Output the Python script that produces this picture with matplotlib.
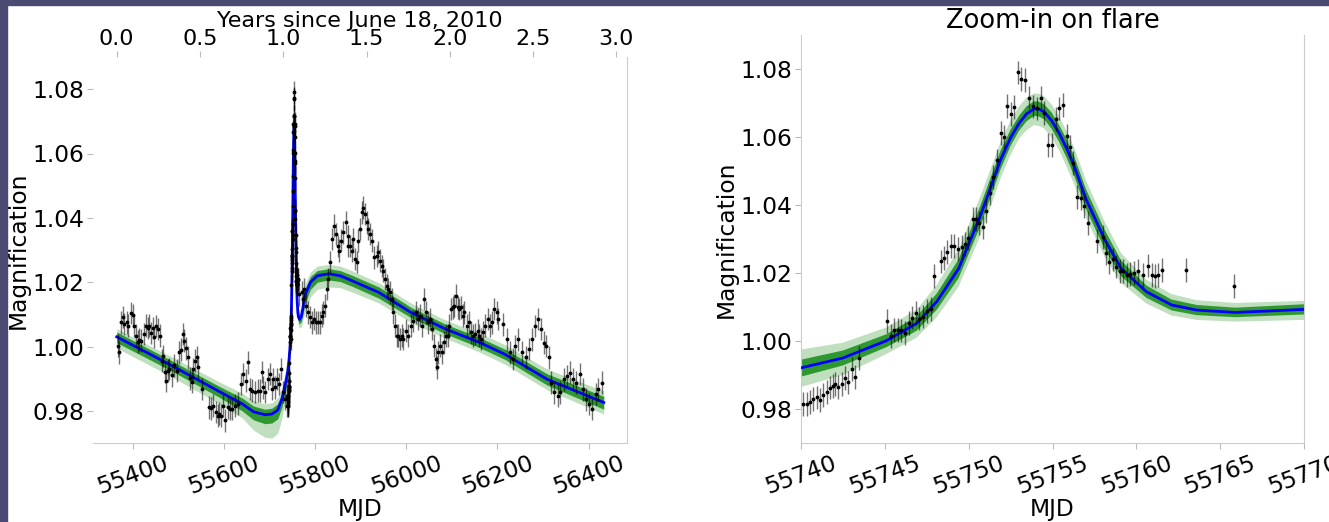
import matplotlib
matplotlib.use("Agg")
import matplotlib.pyplot as plt
from matplotlib.patches import Rectangle

# ---- data ----
# light curve outside the flare (MJD, magnification)
lc_mjd = [55367.1, 55370.8, 55374.5, 55378.1, 55381.8, 55386.9, 55390.5, 55396.4, 55400.0, 55403.7,
          55407.3, 55411.0, 55414.7, 55418.3, 55425.6, 55429.3, 55432.9, 55436.6, 55440.2, 55443.9,
          55447.5, 55451.2, 55454.9, 55459.2, 55463.6, 55467.3, 55470.9, 55473.9, 55476.8, 55480.4,
          55485.6, 55491.4, 55497.3, 55502.4, 55506.0, 55509.7, 55513.3, 55517.7, 55522.1, 55526.5,
          55530.2, 55533.1, 55536.7, 55540.4, 55544.0, 55551.4, 55567.4, 55571.8, 55576.2, 55582.0,
          55586.4, 55589.3, 55593.7, 55598.8, 55602.4, 55608.3, 55613.4, 55618.5, 55624.4, 55630.2,
          55637.5, 55642.6, 55647.8, 55653.6, 55657.3, 55662.4, 55668.2, 55674.1, 55679.2, 55682.8,
          55686.5, 55690.2, 55696.0, 55701.1, 55704.8, 55708.4, 55712.1, 55716.5, 55720.9, 55725.2,
          55730.4, 55734.0, 55737.7, 55739.2,
          55771.5, 55774.0, 55776.4, 55780.1, 55785.2, 55788.8, 55792.5, 55796.9, 55801.3, 55805.6,
          55810.0, 55814.4, 55818.1, 55821.7, 55825.4, 55829.0, 55832.7, 55836.4, 55842.2, 55845.1,
          55849.5, 55852.4, 55856.8, 55861.9, 55867.0, 55871.4, 55872.9, 55876.6, 55880.2, 55883.9,
          55887.5, 55891.2, 55894.8, 55898.5, 55902.2, 55905.8, 55909.5, 55913.1, 55916.8, 55920.4,
          55924.1, 55929.9, 55935.0, 55938.7, 55942.4, 55946.0, 55949.7, 55953.3, 55957.0, 55960.6,
          55964.3, 55967.9, 55971.6, 55975.3, 55978.9, 55982.6, 55986.2, 55989.9, 55993.5, 55998.6,
          56004.5, 56010.3, 56015.5, 56020.6, 56025.0, 56030.1, 56033.7, 56039.6, 56043.2, 56046.9,
          56052.0, 56057.1, 56061.5, 56064.4, 56066.6, 56070.3, 56073.9, 56077.6, 56082.0, 56086.4,
          56090.9, 56094.4, 56098.1, 56101.7, 56105.4, 56109.0, 56112.7, 56116.3, 56120.0, 56123.6,
          56127.3, 56132.4, 56137.5, 56141.9, 56147.0, 56150.7, 56156.5, 56160.2, 56163.8, 56167.5,
          56172.6, 56178.5, 56183.6, 56188.7, 56193.1, 56198.2, 56201.9, 56212.0, 56221.0, 56227.0,
          56233.0, 56239.0, 56246.0, 56253.0, 56262.0, 56270.0, 56276.0, 56283.0, 56288.0, 56295.0,
          56301.0, 56307.0, 56313.0, 56318.0, 56325.0, 56332.0, 56338.0, 56345.0, 56353.0, 56359.0,
          56366.0, 56373.0, 56381.0, 56387.0, 56394.0, 56401.0, 56408.0, 56415.0, 56421.0, 56429.0]
lc_mag = [1.0003, 0.9982, 1.0075, 1.0091, 1.0070, 1.0075, 1.0065, 1.0104, 1.0098, 1.0065,
          1.0034, 1.0015, 1.0021, 1.0018, 1.0039, 1.0065, 1.0057, 1.0065, 1.0042, 1.0057,
          1.0029, 1.0063, 1.0055, 1.0034, 0.9956, 0.9970, 0.9920, 0.9894, 0.9925, 0.9930,
          0.9910, 0.9941, 0.9925, 0.9982, 0.9990, 1.0039, 1.0018, 0.9994, 0.9966, 0.9901,
          0.9891, 0.9930, 0.9956, 0.9966, 0.9935, 0.9868, 0.9811, 0.9808, 0.9816, 0.9796,
          0.9785, 0.9791, 0.9785, 0.9816, 0.9770, 0.9811, 0.9806, 0.9806, 0.9816, 0.9822,
          0.9884, 0.9915, 0.9894, 0.9951, 0.9868, 0.9863, 0.9858, 0.9863, 0.9863, 0.9920,
          0.9873, 0.9858, 0.9899, 0.9915, 0.9868, 0.9899, 0.9873, 0.9899, 0.9884, 0.9930,
          0.9858, 0.9837, 0.9816, 0.9847,
          1.0168, 1.0148, 1.0179, 1.0127, 1.0106, 1.0091, 1.0075, 1.0086, 1.0075, 1.0075,
          1.0075, 1.0096, 1.0106, 1.0127, 1.0179, 1.0210, 1.0262, 1.0334, 1.0376, 1.0350,
          1.0313, 1.0298, 1.0329, 1.0355, 1.0386, 1.0313, 1.0344, 1.0313, 1.0298, 1.0334,
          1.0272, 1.0262, 1.0329, 1.0365, 1.0417, 1.0432, 1.0412, 1.0386, 1.0365, 1.0350,
          1.0329, 1.0277, 1.0282, 1.0293, 1.0267, 1.0251, 1.0236, 1.0210, 1.0189, 1.0179,
          1.0168, 1.0148, 1.0106, 1.0065, 1.0034, 1.0034, 1.0024, 1.0034, 1.0024, 1.0049,
          1.0034, 1.0065, 1.0080, 1.0106, 1.0086, 1.0096, 1.0065, 1.0148, 1.0106, 1.0075,
          1.0086, 1.0055, 1.0003, 0.9961, 0.9935, 0.9982, 1.0003, 0.9982, 1.0013, 1.0034,
          1.0034, 1.0065, 1.0117, 1.0122, 1.0127, 1.0158, 1.0122, 1.0117, 1.0122, 1.0096,
          1.0106, 1.0065, 1.0075, 1.0044, 1.0034, 1.0039, 1.0049, 1.0034, 1.0024, 1.0044,
          1.0065, 1.0086, 1.0065, 1.0075, 1.0117, 1.0106, 1.0086, 1.0069, 1.0022, 0.9982,
          0.9961, 1.0002, 1.0022, 0.9982, 0.9966, 0.9992, 1.0022, 1.0064, 1.0085, 1.0054,
          1.0012, 1.0002, 0.9966, 0.9888, 0.9857, 0.9847, 0.9857, 0.9898, 0.9909, 0.9919,
          0.9898, 0.9888, 0.9914, 0.9867, 0.9836, 0.9821, 0.9805, 0.9852, 0.9867, 0.9888]

# points around the flare
flare_mjd = [55740.14, 55740.34, 55740.54, 55740.73, 55740.93, 55741.13, 55741.33, 55741.53, 55741.73, 55741.93,
             55742.03, 55742.22, 55742.42, 55742.62, 55742.82, 55743.02, 55743.22, 55743.48,
             55745.15, 55745.37, 55745.57, 55745.77, 55745.96, 55746.20, 55746.44, 55746.64, 55746.84, 55747.04,
             55747.29, 55747.53, 55747.73, 55747.93, 55748.33, 55748.53, 55748.72, 55748.93, 55749.14, 55749.34,
             55749.58, 55749.78, 55749.98, 55750.24, 55750.44, 55750.63, 55750.83, 55751.03, 55751.27, 55751.47,
             55751.67, 55751.91, 55752.10, 55752.30, 55752.50, 55752.70, 55752.92, 55753.12, 55753.36, 55753.60,
             55753.82, 55754.05, 55754.29, 55754.51, 55754.75, 55754.95, 55755.19, 55755.40, 55755.64, 55755.84,
             55756.04, 55756.24, 55756.44, 55756.68, 55756.88, 55757.10, 55757.63, 55757.99, 55758.19, 55758.38,
             55758.58, 55758.78, 55759.02, 55759.22, 55759.42, 55759.62, 55759.86, 55760.08, 55760.38, 55760.67,
             55760.91, 55761.11, 55761.31, 55761.51, 55762.96, 55765.81]
flare_mag = [0.9815, 0.9815, 0.9820, 0.9829, 0.9834, 0.9826, 0.9842, 0.9849, 0.9863, 0.9868,
             0.9873, 0.9865, 0.9873, 0.9892, 0.9878, 0.9917, 0.9894, 0.9949,
             1.0059, 1.0015, 1.0033, 1.0032, 1.0031, 1.0023, 1.0052, 1.0069, 1.0082, 1.0066,
             1.0072, 1.0088, 1.0094, 1.0191, 1.0234, 1.0245, 1.0261, 1.0280, 1.0280, 1.0270,
             1.0276, 1.0285, 1.0302, 1.0358, 1.0360, 1.0347, 1.0334, 1.0382, 1.0436, 1.0483,
             1.0531, 1.0611, 1.0601, 1.0691, 1.0667, 1.0688, 1.0790, 1.0771, 1.0768, 1.0716,
             1.0690, 1.0684, 1.0716, 1.0671, 1.0577, 1.0577, 1.0652, 1.0684, 1.0693, 1.0603,
             1.0572, 1.0523, 1.0424, 1.0421, 1.0397, 1.0347, 1.0295, 1.0305, 1.0259, 1.0232,
             1.0240, 1.0219, 1.0205, 1.0205, 1.0193, 1.0198, 1.0201, 1.0205, 1.0195, 1.0222,
             1.0195, 1.0191, 1.0195, 1.0210, 1.0208, 1.0162]
mag_err = 0.0035

# best-fit model and the spread of the posterior samples
model_mjd = [55365, 55480, 55590, 55640, 55665, 55690, 55705, 55718, 55727, 55733,
             55740, 55742.5, 55745.1, 55746.9, 55748.1, 55749.4, 55750.7, 55751.9, 55752.5, 55753.0,
             55753.45, 55753.9, 55754.2, 55754.5, 55754.95, 55755.4, 55755.85, 55756.3, 55757.0, 55758.1,
             55759.1, 55760.6, 55762.1, 55763.6, 55765.9, 55770, 55778, 55790, 55805, 55830,
             55855, 55880, 55940, 56010, 56085, 56160, 56216, 56309, 56433]
model_mag = [1.0030, 0.9945, 0.9860, 0.9822, 0.9797, 0.9788, 0.9790, 0.9802, 0.9835, 0.9870,
             0.9921, 0.9950, 1.0001, 1.0052, 1.0116, 1.0213, 1.0368, 1.0533, 1.0598, 1.0640,
             1.0668, 1.0683, 1.0682, 1.0674, 1.0648, 1.0611, 1.0566, 1.0514, 1.0417, 1.0300,
             1.0213, 1.0145, 1.0106, 1.0091, 1.0084, 1.0093, 1.0160, 1.0200, 1.0220, 1.0226,
             1.0220, 1.0205, 1.0168, 1.0106, 1.0055, 1.0013, 0.9976, 0.9898, 0.9826]
inner_lo = [1.0012, 0.9928, 0.9842, 0.9800, 0.9772, 0.9760, 0.9762, 0.9775, 0.9810, 0.9848,
            0.9895, 0.9928, 0.9982, 1.0030, 1.0092, 1.0185, 1.0338, 1.0505, 1.0574, 1.0618,
            1.0646, 1.0662, 1.0660, 1.0652, 1.0624, 1.0585, 1.0538, 1.0485, 1.0388, 1.0272,
            1.0190, 1.0127, 1.0090, 1.0076, 1.0070, 1.0078, 1.0135, 1.0178, 1.0200, 1.0207,
            1.0202, 1.0188, 1.0150, 1.0090, 1.0040, 0.9997, 0.9960, 0.9880, 0.9805]
inner_hi = [1.0045, 0.9960, 0.9876, 0.9840, 0.9815, 0.9805, 0.9808, 0.9822, 0.9855, 0.9890,
            0.9945, 0.9972, 1.0020, 1.0072, 1.0140, 1.0240, 1.0398, 1.0560, 1.0622, 1.0662,
            1.0690, 1.0705, 1.0704, 1.0696, 1.0672, 1.0635, 1.0593, 1.0542, 1.0446, 1.0328,
            1.0236, 1.0163, 1.0122, 1.0106, 1.0098, 1.0108, 1.0180, 1.0218, 1.0236, 1.0242,
            1.0236, 1.0222, 1.0185, 1.0122, 1.0070, 1.0028, 0.9992, 0.9915, 0.9845]
outer_lo = [0.9995, 0.9910, 0.9822, 0.9778, 0.9740, 0.9718, 0.9715, 0.9730, 0.9775, 0.9820,
            0.9865, 0.9900, 0.9962, 1.0010, 1.0070, 1.0160, 1.0310, 1.0478, 1.0548, 1.0595,
            1.0620, 1.0635, 1.0632, 1.0625, 1.0598, 1.0560, 1.0512, 1.0460, 1.0362, 1.0248,
            1.0170, 1.0110, 1.0075, 1.0062, 1.0057, 1.0062, 1.0110, 1.0155, 1.0178, 1.0185,
            1.0183, 1.0170, 1.0135, 1.0075, 1.0026, 0.9983, 0.9945, 0.9865, 0.9790]
outer_hi = [1.0055, 0.9972, 0.9890, 0.9855, 0.9832, 0.9822, 0.9825, 0.9840, 0.9870, 0.9905,
            0.9975, 0.9995, 1.0040, 1.0092, 1.0165, 1.0270, 1.0425, 1.0585, 1.0648, 1.0690,
            1.0715, 1.0728, 1.0727, 1.0720, 1.0696, 1.0660, 1.0617, 1.0568, 1.0472, 1.0352,
            1.0258, 1.0180, 1.0138, 1.0120, 1.0112, 1.0118, 1.0195, 1.0232, 1.0250, 1.0255,
            1.0250, 1.0236, 1.0198, 1.0135, 1.0083, 1.0042, 1.0006, 0.9930, 0.9862]

year_zero = 55365  # MJD of June 18, 2010
mag_ticks = [0.98, 1.00, 1.02, 1.04, 1.06, 1.08]
year_ticks = [0.0, 0.5, 1.0, 1.5, 2.0, 2.5, 3.0]
zoom_ticks = [55740, 55745, 55750, 55755, 55760, 55765, 55770]

plt.rcParams['font.size'] = 16.8

W, H = 1329, 522
fig = plt.figure(figsize=(W / 100, H / 100), dpi=100)

# slide border on the top and left
fig.patches.append(Rectangle((0, 1 - 5 / H), 1, 5 / H, transform=fig.transFigure,
                             color='#4a4a72', zorder=0))
fig.patches.append(Rectangle((0, 0), 7 / W, 1, transform=fig.transFigure,
                             color='#4a4a72', zorder=0))


def draw_fit(ax):
    ax.fill_between(model_mjd, outer_lo, outer_hi, color='green', alpha=0.25, lw=0)
    ax.fill_between(model_mjd, inner_lo, inner_hi, color='green', alpha=0.75, lw=0)
    ax.plot(model_mjd, model_mag, color='blue', lw=2, zorder=3)
    for xs, ys in [(lc_mjd, lc_mag), (flare_mjd, flare_mag)]:
        ax.errorbar(xs, ys, yerr=mag_err, fmt='.', ms=3.5, color='k',
                    ecolor=(0, 0, 0, 0.55), elinewidth=1, capsize=0, zorder=4)


def style(ax):
    for s in ax.spines.values():
        s.set_color('#cccccc')
    ax.tick_params(color='#bbbbbb', length=4, width=0.8, pad=2)
    ax.set_ylim(0.97, 1.09)
    ax.set_yticks(mag_ticks)
    ax.set_yticklabels([f"{t:.2f}" for t in mag_ticks])
    ax.set_ylabel('Magnification', labelpad=2)
    ax.set_xlabel('MJD', labelpad=0)
    plt.setp(ax.get_xticklabels(), rotation=20)


# full light curve
ax1 = fig.add_axes([93 / W, 79 / H, 534 / W, 386 / H])
draw_fit(ax1)
ax1.set_xlim(55313, 56484)
ax1.set_xticks([55400, 55600, 55800, 56000, 56200, 56400])
style(ax1)
ax1.spines['left'].set_visible(False)
ax1.spines['top'].set_visible(False)

top = ax1.secondary_xaxis('top', functions=(lambda m: (m - year_zero) / 365.25,
                                            lambda y: y * 365.25 + year_zero))
top.set_xticks(year_ticks)
top.set_xticklabels([f"{t:.1f}" for t in year_ticks])
top.tick_params(color='#bbbbbb', length=4, width=0.8, pad=2, labelsize=16)
top.spines['top'].set_visible(False)
top.set_xlabel('Years since June 18, 2010', fontsize=16, labelpad=1.5)

# zoom on the flare
ax2 = fig.add_axes([801 / W, 79 / H, 503 / W, 408 / H])
draw_fit(ax2)
ax2.set_xlim(55740, 55770)
ax2.set_xticks(zoom_ticks)
style(ax2)
ax2.spines['top'].set_visible(False)
ax2.set_title('Zoom-in on flare', fontsize=18.5, pad=5)

fig.savefig('out.png', dpi=100)
